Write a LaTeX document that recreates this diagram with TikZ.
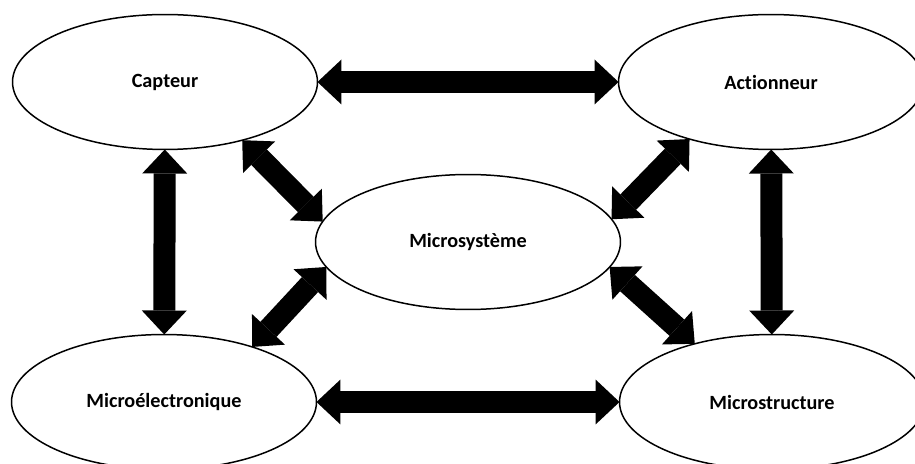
\documentclass[tikz,border=0pt]{standalone}
\usepackage{fontspec}
\setmainfont{Carlito}[Ligatures=NoCommon]
\usepackage{tikz}
\usetikzlibrary{shapes.geometric,arrows.meta}

\begin{document}
\begin{tikzpicture}[x=0.02cm,y=0.02cm,
    bulle/.style={ellipse,draw,line width=0.85pt,minimum width=6.1cm,minimum height=2.7cm,
      inner sep=0pt,outer sep=0pt,font=\fontsize{11.5}{13}\selectfont\bfseries},
    fleche/.style={line width=0.44cm,
      {Triangle[length=0.48cm,width=0.9cm,line width=0pt]}-{Triangle[length=0.48cm,width=0.9cm,line width=0pt]}}]
          \useasboundingbox (0,0) rectangle (915,463);
          \node[bulle] (cap) at (165,381){Capteur};
          \node[bulle] (act) at (771,381){Actionneur};
          \node[bulle] (mic) at (468,221){Microsystème};
          \node[bulle] (mel) at (164,61){Microélectronique};
          \node[bulle] (mst) at (772,61){Microstructure};
          \draw[fleche] (cap) -- (act);
          \draw[fleche] (mel) -- (mst);
          \draw[fleche] (cap) -- (mel);
          \draw[fleche] (act) -- (mst);
          \draw[fleche] (cap.-37) -- (mic.172);
          \draw[fleche] (mel.32) -- (mic.190);
          \draw[fleche] (act.215) -- (mic.9.5);
          \draw[fleche] (mst.143) -- (mic.-10);
        \end{tikzpicture}
\end{document}
